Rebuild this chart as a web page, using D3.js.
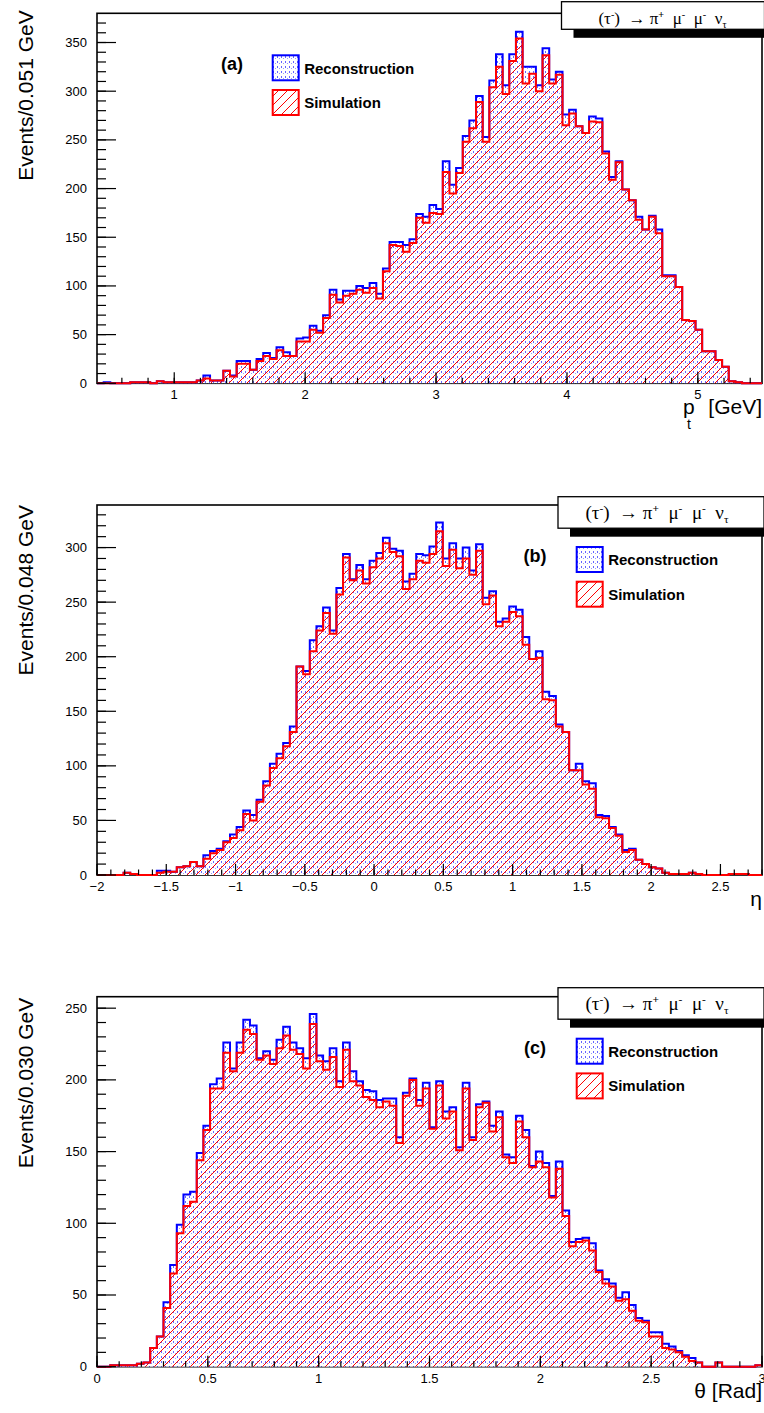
<!DOCTYPE html>
<html>
<head>
<meta charset="utf-8">
<script src="https://cdn.jsdelivr.net/npm/d3@7"></script>
<style>
  body { margin: 0; background: #fff; }
  svg { display: block; }
  text { font-family: "Liberation Sans", Arial, Helvetica, sans-serif; }
</style>
</head>
<body>
<div class="chart"></div>
<script>
/* DATA (100 bins per histogram) */

// (a) transverse momentum
const ptRange = [0.41, 5.49];
const ptReco = [0,1,0,0,0,1,1,1,0,2, 1,1,1,1,1,3,8,3,3,13, 8,23,23,14,25,31,26,37,32,28,
  46,47,59,54,70,96,86,95,95,100, 98,103,92,118,145,145,142,148,174,171,
  183,179,228,204,221,254,270,295,253,311, 338,306,338,361,325,325,306,344,312,320,
  276,281,264,257,274,272,238,212,228,199, 188,171,158,172,158,111,111,99,65,64,
  55,33,33,24,17,2,1,0,0,0];
const ptSim = [0,0,0,0,0,1,1,1,0,2, 1,1,1,1,1,3,5,3,3,13, 7,20,20,14,23,28,25,34,28,28,
  43,43,55,52,67,91,83,90,92,96, 93,98,87,115,142,141,135,144,170,165,
  175,174,217,195,216,248,262,289,248,304, 325,297,331,354,308,318,300,337,308,317,
  265,277,264,257,269,268,236,209,227,199, 188,168,158,171,154,110,110,99,65,64,
  55,33,33,24,17,2,1,0,0,0];
const ptTicks = [1, 2, 3, 4, 5];

// (b) pseudorapidity
const etaRange = [-2, 2.8];
const etaReco = [0,0,0,0,2,1,0,0,0,4, 4,3,7,8,12,8,18,22,24,31, 37,44,59,55,69,86,102,111,121,136,
  191,187,215,228,245,224,263,294,271,284, 271,288,295,309,299,297,269,276,294,293,
  301,323,290,304,290,300,279,303,254,260, 232,235,246,243,218,198,205,168,164,138,
  131,96,102,86,84,55,54,44,37,23, 24,14,10,7,6,2,1,1,1,2,
  1,0,0,0,0,1,1,1,0,0];
const etaSim = [0,0,0,0,2,1,0,0,0,2, 3,3,7,8,12,8,15,20,23,30, 34,41,56,50,67,82,98,107,118,131,
  191,184,205,224,240,221,257,291,270,279, 267,282,290,304,296,292,262,271,288,286,
  294,315,283,298,281,290,275,297,248,256, 228,232,241,237,211,198,199,161,160,136,
  131,96,96,83,79,53,52,43,36,21, 23,14,10,7,6,2,1,1,1,2,
  1,0,0,0,0,1,1,1,0,0];
const etaTicks = [-2, -1.5, -1, -0.5, 0, 0.5, 1, 1.5, 2, 2.5];

// (c) polar angle
const thetaRange = [0, 3];
const thetaReco = [0,0,1,1,1,1,2,3,13,21, 45,71,99,120,122,149,168,197,201,226,
  208,226,242,238,215,220,214,228,237,226, 222,215,246,217,213,222,199,226,206,199,
  193,192,186,187,187,160,191,201,186,198, 167,199,178,181,153,198,160,183,185,168,
  178,148,146,175,165,140,150,142,119,143, 109,87,89,90,86,67,61,58,48,52,
  43,34,32,24,24,16,14,11,8,6, 3,0,0,3,0,0,0,0,0,1];
const thetaSim = [0,0,1,1,1,1,2,3,13,21, 41,65,93,112,115,144,165,194,194,219,
  206,219,235,232,214,217,211,222,231,221, 218,208,239,213,207,216,195,221,199,196,
  188,186,181,185,182,156,189,200,182,194, 166,196,173,178,151,194,158,181,184,164,
  174,146,142,171,160,139,143,139,118,138, 105,84,87,88,81,66,58,56,46,47,
  39,32,31,21,21,13,12,10,7,4, 3,0,0,3,0,0,0,0,0,1];
const thetaTicks = [0, 0.5, 1, 1.5, 2, 2.5, 3];

const legendLabels = ["Reconstruction", "Simulation"];

/* LAYOUT */

const frameLeft = 97, frameRight = 762, frameH = 370;

const panels = [
  {tag: "(a)", top: 13.3, reco: ptReco, sim: ptSim, range: ptRange, ymax: 380,
   xTicks: ptTicks, minorStep: 0.2, yTitle: "Events/0.051 GeV", yTitleDy: -3, xTitle: "pt",
   legendX: 272.7, tagX: 232, box: {x: 561.5, y: 1.7, w: 203, h: 27.6, tx: 662.5, fs: 17}},
  {tag: "(b)", top: 505, reco: etaReco, sim: etaSim, range: etaRange, ymax: 339,
   xTicks: etaTicks, minorStep: 0.1, yTitle: "Events/0.048 GeV", yTitleDy: 0, xTitle: "\u03b7",
   legendX: 576.7, tagX: 535, box: {x: 558, y: 496.7, w: 206, h: 31.5, tx: 657, fs: 19}},
  {tag: "(c)", top: 996.7, reco: thetaReco, sim: thetaSim, range: thetaRange, ymax: 258,
   xTicks: thetaTicks, minorStep: 0.1, yTitle: "Events/0.030 GeV", yTitleDy: 1, xTitle: "\u03b8 [Rad]",
   legendX: 576.7, tagX: 535, box: {x: 558, y: 987.7, w: 206, h: 31.5, tx: 657, fs: 19}}
];

const svg = d3.select(".chart").append("svg")
    .attr("width", 764)
    .attr("height", 1413);

svg.append("rect").attr("width", 764).attr("height", 1413).attr("fill", "#fff");

// fill patterns: dotted (reco) and hatched (sim)
const defs = svg.append("defs");
const dots = defs.append("pattern").attr("id", "dots")
    .attr("patternUnits", "userSpaceOnUse").attr("width", 4).attr("height", 5);
dots.append("rect").attr("width", 4).attr("height", 5).attr("fill", "#fff");
dots.append("rect").attr("x", 1).attr("y", 1).attr("width", 1).attr("height", 2).attr("fill", "#6464ff");
dots.append("rect").attr("x", 3).attr("y", 3).attr("width", 1).attr("height", 1).attr("fill", "#9a9aff");

const hatch = defs.append("pattern").attr("id", "hatch")
    .attr("patternUnits", "userSpaceOnUse").attr("width", 9).attr("height", 9);
hatch.append("path").attr("d", "M0,9 L9,0 M-1,1 L1,-1 M8,10 L10,8")
    .attr("stroke", "#ff0000").attr("stroke-width", 1);

const fmt = v => v < 0 ? "\u2212" + Math.abs(v) : String(v);

function drawPanel(p) {
  const bottom = p.top + frameH;
  const g = svg.append("g");

  const x = d3.scaleLinear().domain(p.range).range([frameLeft, frameRight]);
  const y = d3.scaleLinear().domain([0, p.ymax]).range([bottom, p.top]);

  // frame
  g.append("rect")
      .attr("x", frameLeft).attr("y", p.top)
      .attr("width", frameRight - frameLeft).attr("height", frameH)
      .attr("fill", "none").attr("stroke", "#000").attr("stroke-width", 1.6);

  // histograms as step paths
  const binW = (p.range[1] - p.range[0]) / p.reco.length;
  const pts = vals => [[p.range[0], 0]]
      .concat(vals.map((v, i) => [p.range[0] + i * binW, v]))
      .concat([[p.range[1], 0]]);
  const line = d3.line().x(d => x(d[0])).y(d => y(d[1])).curve(d3.curveStepAfter);

  g.append("path").attr("d", line(pts(p.reco)) + "Z").attr("fill", "url(#dots)");
  g.append("path").attr("d", line(pts(p.sim)) + "Z").attr("fill", "url(#hatch)");
  g.append("path").attr("d", line(pts(p.reco))).attr("fill", "none")
      .attr("stroke", "#0000ff").attr("stroke-width", 2);
  g.append("path").attr("d", line(pts(p.sim))).attr("fill", "none")
      .attr("stroke", "#ff0000").attr("stroke-width", 2);

  // x ticks (inside, pointing up)
  const minor = d3.range(Math.ceil(p.range[0] / p.minorStep) * p.minorStep, p.range[1] + 1e-9, p.minorStep);
  g.selectAll(".xminor").data(minor).enter().append("line")
      .attr("x1", d => x(d)).attr("x2", d => x(d))
      .attr("y1", bottom).attr("y2", bottom - 5.5)
      .attr("stroke", "#000").attr("stroke-width", 1.2);
  g.selectAll(".xmajor").data(p.xTicks).enter().append("line")
      .attr("x1", d => x(d)).attr("x2", d => x(d))
      .attr("y1", bottom).attr("y2", bottom - 11)
      .attr("stroke", "#000").attr("stroke-width", 1.2);
  g.selectAll(".xlab").data(p.xTicks).enter().append("text")
      .attr("x", d => x(d)).attr("y", bottom + 16)
      .attr("text-anchor", "middle").attr("font-size", 13)
      .text(fmt);

  // y ticks (inside, pointing right)
  const yMinor = d3.range(0, p.ymax, 10);
  const yMajor = yMinor.filter(v => v % 50 === 0);
  g.selectAll(".yminor").data(yMinor).enter().append("line")
      .attr("x1", frameLeft).attr("x2", frameLeft + 9)
      .attr("y1", d => y(d)).attr("y2", d => y(d))
      .attr("stroke", "#000").attr("stroke-width", 1.2);
  g.selectAll(".ymajor").data(yMajor).enter().append("line")
      .attr("x1", frameLeft).attr("x2", frameLeft + 19)
      .attr("y1", d => y(d)).attr("y2", d => y(d))
      .attr("stroke", "#000").attr("stroke-width", 1.2);
  g.selectAll(".ylab").data(yMajor).enter().append("text")
      .attr("x", 87).attr("y", d => y(d) + 4.5)
      .attr("text-anchor", "end").attr("font-size", 13)
      .text(d => d);

  // axis titles
  g.append("text")
      .attr("transform", `translate(33, ${p.top + p.yTitleDy}) rotate(-90)`)
      .attr("text-anchor", "end").attr("font-size", 21)
      .text(p.yTitle);

  if (p.xTitle === "pt") {
    g.append("text").attr("x", 683).attr("y", bottom + 31).attr("font-size", 21).text("p");
    g.append("text").attr("x", 687).attr("y", bottom + 46).attr("font-size", 14).text("t");
    g.append("text").attr("x", 762).attr("y", bottom + 31).attr("text-anchor", "end")
        .attr("font-size", 21).text("[GeV]");
  } else {
    g.append("text").attr("x", 762).attr("y", bottom + 31).attr("text-anchor", "end")
        .attr("font-size", 21).text(p.xTitle);
  }

  // panel tag
  g.append("text").attr("x", p.tagX).attr("y", p.top + 57)
      .attr("text-anchor", "middle").attr("font-size", 18).attr("font-weight", "bold")
      .text(p.tag);

  // legend
  const fills = ["url(#dots)", "url(#hatch)"];
  const strokes = ["#0000ff", "#ff0000"];
  legendLabels.forEach((lab, i) => {
    g.append("rect")
        .attr("x", p.legendX).attr("y", p.top + 42 + i * 34.7)
        .attr("width", 26).attr("height", 25)
        .attr("fill", fills[i]).attr("stroke", strokes[i]).attr("stroke-width", 2);
    g.append("text")
        .attr("x", p.legendX + 31.5).attr("y", p.top + 60.3 + i * 34.2)
        .attr("font-size", 15).attr("font-weight", "bold")
        .text(lab);
  });

  // decay title box with shadow
  const b = p.box;
  g.append("rect").attr("x", b.x + 12).attr("y", b.y + 8.5)
      .attr("width", b.w).attr("height", b.h).attr("fill", "#000");
  g.append("rect").attr("x", b.x).attr("y", b.y)
      .attr("width", b.w).attr("height", b.h)
      .attr("fill", "#fff").attr("stroke", "#000").attr("stroke-width", 1.3);
  const t = g.append("text")
      .attr("x", b.tx).attr("y", b.y + 22.3)
      .attr("text-anchor", "middle")
      .attr("font-size", b.fs)
      .style("font-family", "'Liberation Serif', 'Times New Roman', serif")
      .style("white-space", "pre");
  const sup = b.fs * 0.6;
  const up = b.fs * 0.38;
  t.append("tspan").text("(\u03c4");
  t.append("tspan").attr("font-size", sup).attr("dy", -up).text("-");
  t.append("tspan").attr("dy", up).text(")  \u2192 \u03c0");
  t.append("tspan").attr("font-size", sup).attr("font-weight", "bold").attr("dy", -up).text("+");
  t.append("tspan").attr("dy", up).text("  \u03bc");
  t.append("tspan").attr("font-size", sup).attr("dy", -up).text("-");
  t.append("tspan").attr("dy", up).text("  \u03bc");
  t.append("tspan").attr("font-size", sup).attr("dy", -up).text("-");
  t.append("tspan").attr("dy", up).text("  \u03bd");
  t.append("tspan").attr("font-size", sup).attr("dy", 4).text("\u03c4");
}

panels.forEach(drawPanel);
</script>
</body>
</html>
